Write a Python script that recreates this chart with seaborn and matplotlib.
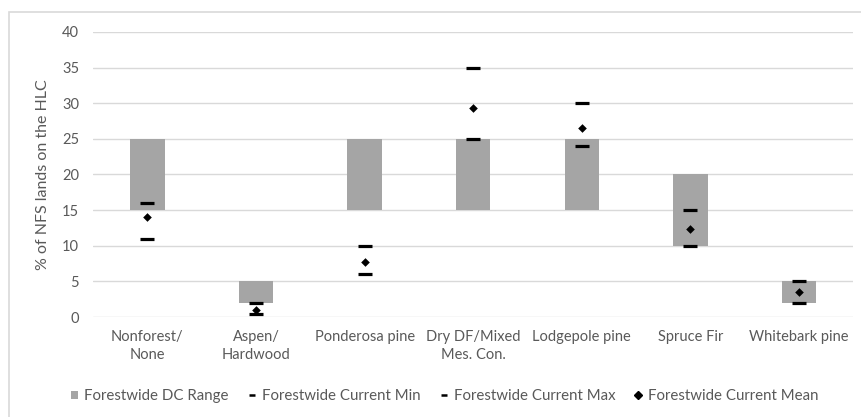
import matplotlib
matplotlib.use("Agg")
import matplotlib.pyplot as plt
from matplotlib.patches import Patch, Rectangle
from matplotlib.lines import Line2D
import seaborn as sns
import pandas as pd

# Cover types and forestwide desired-condition ranges (% of NFS lands on the HLC)
categories = ["Nonforest/\nNone", "Aspen/\nHardwood", "Ponderosa pine",
              "Dry DF/Mixed\nMes. Con.", "Lodgepole pine", "Spruce Fir",
              "Whitebark pine"]
dc_low = [15, 2, 15, 15, 15, 10, 2]
dc_high = [25, 5, 25, 25, 25, 20, 5]
current_min = [11, 0.4, 6, 25, 24, 10, 2]
current_max = [16, 2, 10, 35, 30, 15, 5]
current_mean = [14, 1, 7.7, 29.4, 26.5, 12.4, 3.5]
y_ticks = [0, 5, 10, 15, 20, 25, 30, 35, 40]

sns.set_theme(style="white")
plt.rcParams["font.family"] = ["Lato", "DejaVu Sans"]
text_color = "#595959"
bar_color = "#A5A5A5"
grid_color = "#D9D9D9"

df = pd.DataFrame({
    "cover": categories,
    "low": dc_low,
    "high": dc_high,
    "cmin": current_min,
    "cmax": current_max,
    "cmean": current_mean,
})

fig = plt.figure(figsize=(8.62, 4.17), dpi=100)
ax = fig.add_axes([0.108, 0.2398, 0.882, 0.6835])

# Floating range bars: draw full height, then lift each bar to its lower bound
sns.barplot(data=df, x="cover", y="high", order=categories, color=bar_color,
            saturation=1, width=0.316, ax=ax, zorder=2)
for patch, lo, hi in zip(ax.patches, dc_low, dc_high):
    patch.set_y(lo)
    patch.set_height(hi - lo)
    patch.set_edgecolor("none")

dash_kw = dict(order=categories, jitter=False, marker="_", s=9.5, linewidth=2.3,
               color="black", edgecolor="black", ax=ax, zorder=4)
sns.stripplot(data=df, x="cover", y="cmin", **dash_kw)
sns.stripplot(data=df, x="cover", y="cmax", **dash_kw)
sns.stripplot(data=df, x="cover", y="cmean", order=categories, jitter=False,
              marker="D", size=4.4, linewidth=0, color="black", ax=ax, zorder=4)

ax.set_ylim(0, 40)
ax.set_xlim(-0.5, len(categories) - 0.5)
ax.set_yticks(y_ticks)
ax.set_yticklabels([str(t) for t in y_ticks])
ax.yaxis.grid(True, color=grid_color, linewidth=1)
ax.set_axisbelow(True)
for s in ax.spines.values():
    s.set_visible(False)
ax.tick_params(axis="both", length=0, colors=text_color, labelsize=10.5)
ax.tick_params(axis="x", pad=9)
ax.tick_params(axis="y", pad=10)
for lbl in ax.get_xticklabels():
    lbl.set_linespacing(1.4)
ax.set_xlabel("")
ax.set_ylabel("% of NFS lands on the HLC", color=text_color, fontsize=11.5,
              labelpad=9)

handles = [
    Patch(facecolor=bar_color, edgecolor="none"),
    Line2D([], [], color="black", marker="_", linestyle="none",
           markersize=5, markeredgewidth=1.8),
    Line2D([], [], color="black", marker="_", linestyle="none",
           markersize=5, markeredgewidth=1.8),
    Line2D([], [], color="black", marker="D", linestyle="none", markersize=3.8),
]
labels = ["Forestwide DC Range", "Forestwide Current Min",
          "Forestwide Current Max", "Forestwide Current Mean"]
fig.legend(handles, labels, loc="center", bbox_to_anchor=(0.516, 0.05),
           ncol=4, frameon=False, fontsize=10.8, labelcolor=text_color,
           handlelength=0.5, handleheight=0.5, handletextpad=0.4,
           columnspacing=1.3)

# Light chart-area border along the left and top
fig.patches.append(Rectangle((9.5 / 862, -0.1), 1.2, 1.1 - 11.5 / 417,
                             transform=fig.transFigure, fill=False,
                             edgecolor="#D9D9D9", linewidth=1.2))

fig.savefig("out.png", dpi=100)
